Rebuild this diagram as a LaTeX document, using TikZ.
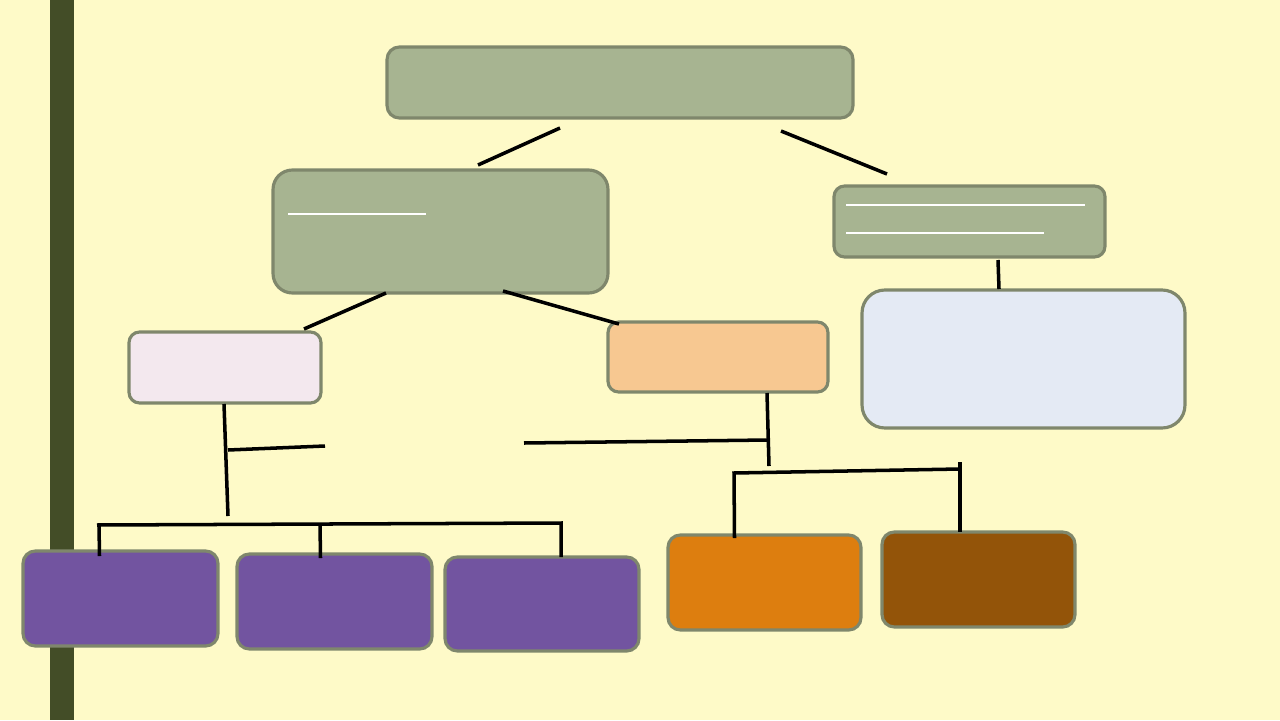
\documentclass[tikz,border=0pt]{standalone}
\usetikzlibrary{calc}

\definecolor{paper}{HTML}{FEFAC8}
\definecolor{barcol}{HTML}{434D27}
\definecolor{rim}{HTML}{7F876C}
\definecolor{sage}{HTML}{A7B491}
\definecolor{blush}{HTML}{F3E8EE}
\definecolor{peach}{HTML}{F7C891}
\definecolor{mist}{HTML}{E4EAF4}
\definecolor{grape}{HTML}{7254A0}
\definecolor{amber}{HTML}{DD7E0F}
\definecolor{umber}{HTML}{935409}

\tikzset{
  box/.style={draw=rim, line width=1.8pt, rounded corners=7pt,
    inner sep=0pt, outer sep=0pt},
  link/.style={draw=black, line width=2pt},
  rule/.style={draw=white, line width=0.6pt}
}

\begin{document}
\begin{tikzpicture}[x=0.02cm,y=-0.02cm]
    \fill[paper] (0,0) rectangle (1280,720);
    \fill[barcol] (50,0) rectangle (74,720);

    \node[box, fill=sage, minimum width=9.32cm, minimum height=1.42cm] (root) at (620,82.5) {};
    \node[box, fill=sage, rounded corners=11pt, minimum width=6.7cm, minimum height=2.46cm] (left) at (440.5,231.5) {};
    \node[box, fill=sage, rounded corners=6pt, minimum width=5.42cm, minimum height=1.42cm] (right) at (969.5,221.5) {};
    \node[box, fill=blush, rounded corners=6pt, minimum width=3.84cm, minimum height=1.42cm] (pink) at (225,367.5) {};
    \node[box, fill=peach, rounded corners=6pt, minimum width=4.4cm, minimum height=1.4cm] (mid) at (718,357) {};
    \node[box, fill=mist, rounded corners=13pt, minimum width=6.46cm, minimum height=2.76cm] (note) at (1023.5,359) {};
    \node[box, fill=grape, minimum width=3.9cm, minimum height=1.9cm] (p1) at (120.5,598.5) {};
    \node[box, fill=grape, minimum width=3.9cm, minimum height=1.9cm] (p2) at (334.5,601.5) {};
    \node[box, fill=grape, minimum width=3.88cm, minimum height=1.88cm] (p3) at (542,604) {};
    \node[box, fill=amber, minimum width=3.86cm, minimum height=1.9cm] (o1) at (764.5,582.5) {};
    \node[box, fill=umber, minimum width=3.86cm, minimum height=1.9cm] (o2) at (978.5,579.5) {};

    % lines inside the green boxes
    \draw[rule] ($(left.north west)+(15,44)$) -- ($(left.north west)+(153,44)$);
    \draw[rule] ($(right.north west)+(12,19)$) -- ($(right.north west)+(251,19)$);
    \draw[rule] ($(right.north west)+(12,47)$) -- ($(right.north west)+(210,47)$);

    % loose ends of the connectors
    \coordinate (r1) at (560,128);
    \coordinate (r2) at (478,165);
    \coordinate (r3) at (781,131);
    \coordinate (r4) at (887,174);
    \coordinate (l1) at (386,293);
    \coordinate (l2) at (304,329);
    \coordinate (l3) at (503,291);
    \coordinate (l4) at (619,324);
    \coordinate (n1) at (998,260);
    \coordinate (n2) at (999,289);
    \coordinate (k1) at (224,404);
    \coordinate (k2) at (228,516);
    \coordinate (k3) at (228,450);
    \coordinate (k4) at (325,446);
    \coordinate (m1) at (767,393);
    \coordinate (m2) at (769,466);
    \coordinate (m3) at (768,440);
    \coordinate (m4) at (524,443);
    \coordinate (b1) at (97,525);
    \coordinate (b2) at (561,523);
    \coordinate (b3) at (734,473);
    \coordinate (b4) at (960,469);

    \draw[link] (r1) -- (r2);
    \draw[link] (r3) -- (r4);
    \draw[link] (l1) -- (l2);
    \draw[link] (l3) -- (l4);
    \draw[link] (n1) -- (n2);
    \draw[link] (k1) -- (k2);
    \draw[link] (k3) -- (k4);
    \draw[link] (m1) -- (m2);
    \draw[link] (m3) -- (m4);
    \draw[link] (b1) -- (b2) -- ($(p3.north)+(19,0)$);
    \draw[link] (b1 -| 99,0) -- ($(p1.north)+(-21,5)$);
    \draw[link] (320,524) -- ($(p2.north)+(-14,4)$);
    \draw[link] ($(o1.north)+(-30,3)$) -- (b3) -- (b4);
    \draw[link] (960,462) -- (o2.north -| 960,0);
\end{tikzpicture}
\end{document}
